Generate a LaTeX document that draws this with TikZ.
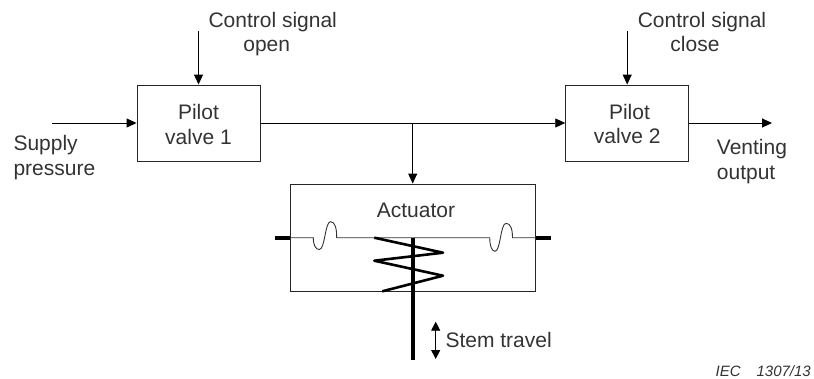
\documentclass[tikz,border=0pt]{standalone}
\usepackage{fontspec}
\setmainfont{Liberation Sans}
\usetikzlibrary{arrows.meta}
\tikzset{
  labeltext/.style={font=\fontsize{21}{24}\selectfont, text=black!80, inner sep=0pt},
  valvebox/.style={draw=black!85, line width=0.9pt, fill=white, minimum width=123pt, minimum height=76pt, inner sep=0pt, align=center, font=\fontsize{21}{24}\selectfont, text=black!80},
  flow/.style={draw=black, line width=0.9pt, -{Triangle[length=10pt,width=9pt]}},
  plainline/.style={draw=black!80, line width=0.9pt},
  thick stem/.style={draw=black, line width=3.6pt},
  spring line/.style={draw=black, line width=2.6pt, line join=round},
  travel/.style={draw=black, line width=0.9pt, {Triangle[length=9pt,width=9pt]}-{Triangle[length=9pt,width=9pt]}}
}
\begin{document}
\begin{tikzpicture}[x=1pt,y=-1pt]
\useasboundingbox (0,0) rectangle (814,378);
% boxes
\node[valvebox] (pv1) at (198.5,123) {\rule{0pt}{19pt}Pilot\\[1pt]valve 1};
\node[valvebox] (pv2) at (627.2,123) {\rule{0pt}{17.5pt}\hspace*{4.5pt}Pilot\\valve 2};
\node[draw=black!85, line width=0.9pt, minimum width=245.7pt, minimum height=107pt, inner sep=0pt] (act) at (412.85,237.5) {};
% labels
\node[labeltext, anchor=base, align=center] (csopen) at (272.7,51) {Control signal\\open\hspace*{12pt}};
\node[labeltext, anchor=base, align=center] (csclose) at (702,51) {Control signal\\close\hspace*{14pt}};
\node[labeltext, anchor=base west, align=left] (supply) at (13.3,175) {Supply\\[1pt]pressure};
\node[labeltext, anchor=base west, align=left] (vent) at (716.7,179) {Venting\\[1pt]output};
\node[labeltext, anchor=base] (actlabel) at (416,217.7) {Actuator};
\node[labeltext, anchor=base west] (stemlabel) at (445.3,347.7) {Stem travel};
\node[anchor=base east, inner sep=0pt, font=\fontsize{15}{18}\selectfont\itshape, text=black!80] (iec) at (811,376) {IEC\hspace{16pt}1307/13};
% free ends
\coordinate (supplyin) at (52,123);
\coordinate (ctrl1) at (198.5,31);
\coordinate (ctrl2) at (627.2,31);
\coordinate (ventout) at (772,123);
\coordinate (junction) at (412.7,123);
% connectors
\draw[flow] (supplyin) -- (pv1.west |- supplyin);
\draw[flow] (ctrl1) -- (pv1.north);
\draw[flow] (ctrl2) -- (pv2.north);
\draw[flow] (pv1.east |- junction) -- (pv2.west |- junction);
\draw[flow] (junction) -- (junction |- act.north);
\draw[flow] (pv2.east |- ventout) -- (ventout);
% diaphragm
\draw[plainline] (act.west |- 0,237.7) -- (313.3,237.7)
  .. controls (313.3,245) and (315.5,249.5) .. (319.3,249.5)
  .. controls (325,249.5) and (325,221.7) .. (330.5,221.7)
  .. controls (335,221.7) and (336.7,228) .. (336.7,237.7)
  -- (489.7,237.7)
  .. controls (489.7,245) and (491.5,251.3) .. (495,251.3)
  .. controls (500.5,251.3) and (500.5,223.3) .. (506,223.3)
  .. controls (510.5,223.3) and (512.5,229) .. (512.5,237.7)
  -- (act.east |- 0,237.7);
% stubs
\draw[thick stem] (275,237.7) -- (act.west |- 0,237.7);
\draw[thick stem] (act.east |- 0,237.7) -- (551,237.7);
% spring
\draw[spring line] (374.3,237.7) -- (443,252.7) -- (374.3,260.7) -- (443,275.7) -- (382.3,291.3);
% stem
\draw[thick stem] (413,237.7) -- (413,360);
% travel
\draw[travel] (435.7,321.7) -- (435.7,359);
\end{tikzpicture}
\end{document}
